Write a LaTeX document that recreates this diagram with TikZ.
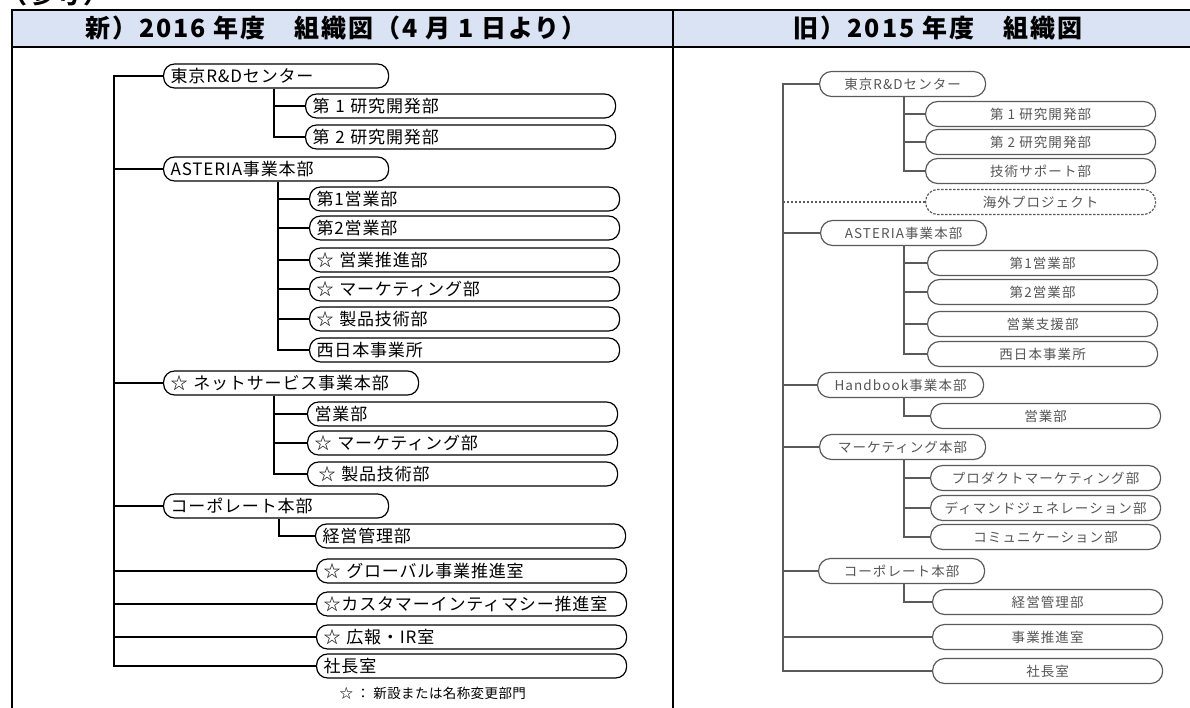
\documentclass[tikz,border=0pt]{standalone}
\usepackage{fontspec}
\newfontfamily\jp{Noto Sans CJK JP}
\usetikzlibrary{calc}
\definecolor{hdr}{HTML}{DAE3F3}
\definecolor{rgray}{HTML}{555555}
\definecolor{rlinec}{HTML}{5A5A5A}
\begin{document}
\begin{tikzpicture}[x=1pt,y=-1pt,
  lbox/.style={draw=black, line width=1.2pt, rounded corners=11pt, minimum height=24pt,
    inner xsep=7pt, inner ysep=0pt, anchor=west, align=left,
    font=\jp\fontsize{17}{19}\selectfont\addfontfeature{LetterSpace=5}},
  ltop/.style={lbox, text width=211pt},
  lsub/.style={lbox, text width=296pt},
  rbox/.style={draw=rlinec, line width=1.2pt, rounded corners=12pt, minimum height=25pt,
    inner sep=0pt, anchor=west, text=rgray,
    font=\jp\fontsize{13.5}{15}\selectfont\addfontfeature{LetterSpace=8}},
  rtop/.style={rbox, minimum width=166pt},
  rsub/.style={rbox, minimum width=230pt},
  lline/.style={draw=black, line width=1.2pt},
  rline/.style={draw=rlinec, line width=1.6pt},
  hdrtext/.style={font=\jp\bfseries\fontsize{25}{27}\selectfont\addfontfeature{LetterSpace=8}},
  frame/.style={draw=black, line width=2pt}
]
\useasboundingbox (0,0) rectangle (1190,708);
% table
\fill[hdr] (12,10) rectangle (1190,47);
\draw[frame] (1190,10) -- (12,10) -- (12,708);
\draw[frame] (12,47) -- (1190,47);
\draw[frame] (673,10) -- (673,708);
\begin{scope}
\clip (0,0) rectangle (300,9);
\node[hdrtext, anchor=south west, inner sep=0pt] (ref) at (2,6) {（参考）};
\end{scope}
\node[hdrtext] (h1) at (336,28) {新）2016 年度　組織図（4 月 1 日より）};
\node[hdrtext] (h2) at (938,28) {旧）2015 年度　組織図};

% ---------- left tree ----------
\node[ltop] (t1) at (163,76) {東京R\&Dセンター};
\node[lsub] (t1a) at (305,106) {第 1 研究開発部};
\node[lsub] (t1b) at (305,137) {第 2 研究開発部};
\node[ltop] (t2) at (163,169) {ASTERIA事業本部};
\node[lsub] (t2a) at (309,199) {第1営業部};
\node[lsub] (t2b) at (309,228) {第2営業部};
\node[lsub] (t2c) at (309,260) {☆ 営業推進部};
\node[lsub] (t2d) at (309,289) {☆ マーケティング部};
\node[lsub] (t2e) at (309,319) {☆ 製品技術部};
\node[lsub] (t2f) at (309,350) {西日本事業所};
\node[lbox, text width=241pt] (t3) at (163,383) {☆ ネットサービス事業本部};
\node[lsub] (t3a) at (307,414) {営業部};
\node[lsub] (t3b) at (307,443) {☆ マーケティング部};
\node[lsub] (t3c) at (307,474) {\hspace{4pt}☆ 製品技術部};
\node[ltop] (t4) at (163,506) {コーポレート本部};
\node[lsub] (t4a) at (315,536) {経営管理部};
\node[lsub] (t5) at (316,571) {☆ グローバル事業推進室};
\node[lsub] (t6) at (316,604) {☆カスタマーインティマシー推進室};
\node[lsub] (t7) at (316,637) {☆ 広報・IR室};
\node[lsub] (t8) at (316,666) {社長室};
\node[anchor=west, font=\jp\fontsize{13.5}{15}\selectfont\addfontfeature{LetterSpace=3}] (note) at (336,693) {☆ ： 新設または名称変更部門};

\coordinate (LX) at (114,0);
\coordinate (S1) at (274,0);
\coordinate (S2) at (278,0);
\coordinate (S3) at (274,0);
\coordinate (S4) at (279,0);
\draw[lline] (t1.west) -- (t1.west -| LX) -- (t8.west -| LX) -- (t8.west);
\foreach \n in {t2,t3,t4,t5,t6,t7} \draw[lline] (\n.west) -- (\n.west -| LX);
\draw[lline] (t1.south -| S1) |- (t1b.west);
\draw[lline] (t1a.west) -- (t1a.west -| S1);
\draw[lline] (t2.south -| S2) |- (t2f.west);
\foreach \n in {t2a,t2b,t2c,t2d,t2e} \draw[lline] (\n.west) -- (\n.west -| S2);
\draw[lline] (t3.south -| S3) |- (t3c.west);
\foreach \n in {t3a,t3b} \draw[lline] (\n.west) -- (\n.west -| S3);
\draw[lline] (t4.south -| S4) |- (t4a.west);

% ---------- right tree ----------
\node[rtop] (r1) at (819,84) {東京R\&Dセンター};
\node[rsub] (r1a) at (925,114) {第 1 研究開発部};
\node[rsub] (r1b) at (925,142) {第 2 研究開発部};
\node[rsub] (r1c) at (925,171) {技術サポート部};
\node[rsub, dashed, dash pattern=on 2.5pt off 1.5pt] (r1d) at (925,202) {海外プロジェクト};
\node[rtop] (r2) at (820,233) {ASTERIA事業本部};
\node[rsub] (r2a) at (927,263) {第1営業部};
\node[rsub] (r2b) at (927,292) {第2営業部};
\node[rsub] (r2c) at (927,324) {営業支援部};
\node[rsub] (r2d) at (927,354) {西日本事業所};
\node[rtop] (r3) at (817,385) {Handbook事業本部};
\node[rsub] (r3a) at (930,416) {営業部};
\node[rtop] (r4) at (819,447) {マーケティング本部};
\node[rsub] (r4a) at (930,478) {プロダクトマーケティング部};
\node[rsub] (r4b) at (930,508) {ディマンドジェネレーション部};
\node[rsub] (r4c) at (930,537) {コミュニケーション部};
\node[rtop] (r5) at (818,571) {コーポレート本部};
\node[rsub] (r5a) at (932,602) {経営管理部};
\node[rsub] (r6) at (932,637) {事業推進室};
\node[rsub] (r7) at (932,671) {社長室};

\coordinate (RX) at (783,0);
\coordinate (RS) at (904,0);
\draw[rline] (r1.west) -- (r1.west -| RX) -- (r7.west -| RX) -- (r7.west);
\foreach \n in {r2,r3,r4,r5,r6} \draw[rline] (\n.west) -- (\n.west -| RX);
\draw[rline, dashed, dash pattern=on 2.5pt off 1.5pt, line width=1.2pt] (r1d.west) -- (r1d.west -| RX);
\draw[rline] (r1.south -| RS) |- (r1c.west);
\foreach \n in {r1a,r1b} \draw[rline] (\n.west) -- (\n.west -| RS);
\draw[rline] (r2.south -| RS) |- (r2d.west);
\foreach \n in {r2a,r2b,r2c} \draw[rline] (\n.west) -- (\n.west -| RS);
\draw[rline] (r3.south -| RS) |- (r3a.west);
\draw[rline] (r4.south -| RS) |- (r4c.west);
\foreach \n in {r4a,r4b} \draw[rline] (\n.west) -- (\n.west -| RS);
\draw[rline] (r5.south -| RS) |- (r5a.west);
\end{tikzpicture}
\end{document}
